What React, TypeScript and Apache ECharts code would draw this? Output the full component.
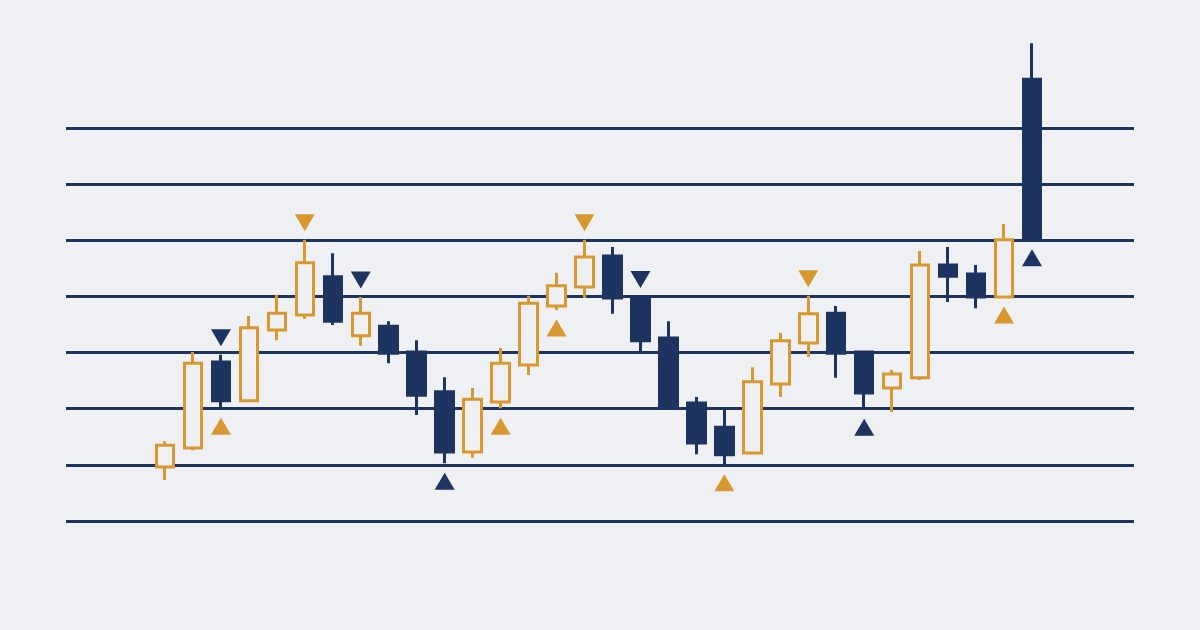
import React, { useEffect, useRef } from "react";
import * as echarts from "echarts";

// Candles: [open, close, low, high]
const categories: string[] = [
  "1", "2", "3", "4", "5", "6", "7", "8", "9", "10", "11", "12", "13", "14", "15", "16",
  "17", "18", "19", "20", "21", "22", "23", "24", "25", "26", "27", "28", "29", "30", "31", "32",
];
const opens: number[] = [
  109.6, 113.0, 128.3, 121.4, 134.0, 136.7, 143.5, 133.0, 134.7, 130.1, 123.0, 112.3, 121.2, 127.8, 138.3, 141.7,
  147.2, 139.9, 132.6, 121.0, 116.7, 112.1, 124.4, 131.7, 137.0, 130.1, 123.7, 125.5, 145.6, 144.0, 139.9, 178.7,
];
const closes: number[] = [
  113.5, 128.1, 121.4, 134.4, 137.0, 146.0, 135.6, 137.0, 129.9, 122.4, 112.3, 121.7, 128.1, 138.8, 141.9, 147.0,
  139.7, 132.1, 120.1, 113.9, 111.8, 124.8, 132.1, 136.9, 129.9, 122.8, 126.2, 145.6, 143.6, 139.9, 150.1, 150.1,
];
const lows: number[] = [
  107.3, 112.6, 120.1, 121.2, 132.2, 136.0, 134.9, 131.2, 128.1, 118.9, 110.3, 111.2, 120.1, 126.0, 137.6, 139.7,
  136.9, 130.1, 120.1, 111.9, 110.0, 112.1, 122.1, 129.2, 125.5, 119.9, 119.4, 125.1, 139.0, 137.9, 139.9, 150.1,
];
const highs: number[] = [
  114.2, 130.1, 129.6, 136.5, 140.3, 150.1, 147.7, 139.9, 135.6, 132.2, 125.6, 123.7, 130.8, 140.1, 144.2, 150.1,
  148.8, 140.0, 135.6, 122.1, 119.8, 127.4, 133.5, 140.1, 138.3, 130.3, 126.9, 148.1, 148.8, 145.6, 152.9, 185.1,
];

// Signal markers (candle indices)
const peakNavy: number[] = [2, 7, 17];
const peakOrange: number[] = [5, 15, 23];
const troughNavy: number[] = [10, 25, 31];
const troughOrange: number[] = [2, 12, 14, 20, 30];

// Horizontal guide levels
const levelMin = 100;
const levelMax = 170;
const levelStep = 10;
const priceMax = 190;

const BG = "#eef0f3";
const NAVY = "#1d3461";
const ORANGE = "#d9982f";

export default function App() {
  const ref = useRef<HTMLDivElement>(null);

  useEffect(() => {
    if (!ref.current) return;
    const chart = echarts.init(ref.current, null, { renderer: "svg" });
    const candleData = categories.map((_, i) => [opens[i], closes[i], lows[i], highs[i]]);
    const peakPts = (idx: number[]) => idx.map((i) => [i, highs[i]]);
    const troughPts = (idx: number[]) => idx.map((i) => [i, lows[i]]);

    const triBase = {
      type: "scatter" as const,
      xAxisIndex: 1,
      yAxisIndex: 1,
      symbol: "triangle",
      symbolSize: [20, 17],
      z: 5,
      silent: true,
    };

    chart.setOption({
      animation: false,
      backgroundColor: BG,
      grid: [
        { left: 66, right: 66, top: 128, bottom: 109 },
        { left: 151, right: 154, top: 15.7, bottom: 109 },
      ],
      xAxis: [
        { type: "value", gridIndex: 0, min: 0, max: 1, show: false },
        {
          type: "category",
          gridIndex: 1,
          data: categories,
          boundaryGap: true,
          show: false,
        },
      ],
      yAxis: [
        {
          type: "value",
          gridIndex: 0,
          min: levelMin,
          max: levelMax,
          interval: levelStep,
          axisLine: { show: false },
          axisTick: { show: false },
          axisLabel: { show: false },
          splitLine: { show: true, lineStyle: { color: NAVY, width: 3, opacity: 1 } },
        },
        {
          type: "value",
          gridIndex: 1,
          min: levelMin,
          max: priceMax,
          show: false,
          splitLine: { show: false },
        },
      ],
      series: [
        {
          type: "candlestick",
          xAxisIndex: 1,
          yAxisIndex: 1,
          data: candleData,
          barWidth: 18,
          z: 3,
          itemStyle: {
            color: BG,
            color0: NAVY,
            borderColor: ORANGE,
            borderColor0: NAVY,
            borderWidth: 3,
            opacity: 1,
          },
        },
        { ...triBase, data: peakPts(peakNavy), symbolRotate: 180, symbolOffset: [0, -17], itemStyle: { color: NAVY, opacity: 1 } },
        { ...triBase, data: peakPts(peakOrange), symbolRotate: 180, symbolOffset: [0, -17], itemStyle: { color: ORANGE, opacity: 1 } },
        { ...triBase, data: troughPts(troughNavy), symbolOffset: [0, 18], itemStyle: { color: NAVY, opacity: 1 } },
        { ...triBase, data: troughPts(troughOrange), symbolOffset: [0, 18], itemStyle: { color: ORANGE, opacity: 1 } },
      ],
    });
    return () => chart.dispose();
  }, []);

  return (
    <div
      ref={ref}
      style={{ position: "fixed", left: 0, top: 0, width: 1200, height: 630, background: BG }}
    />
  );
}
